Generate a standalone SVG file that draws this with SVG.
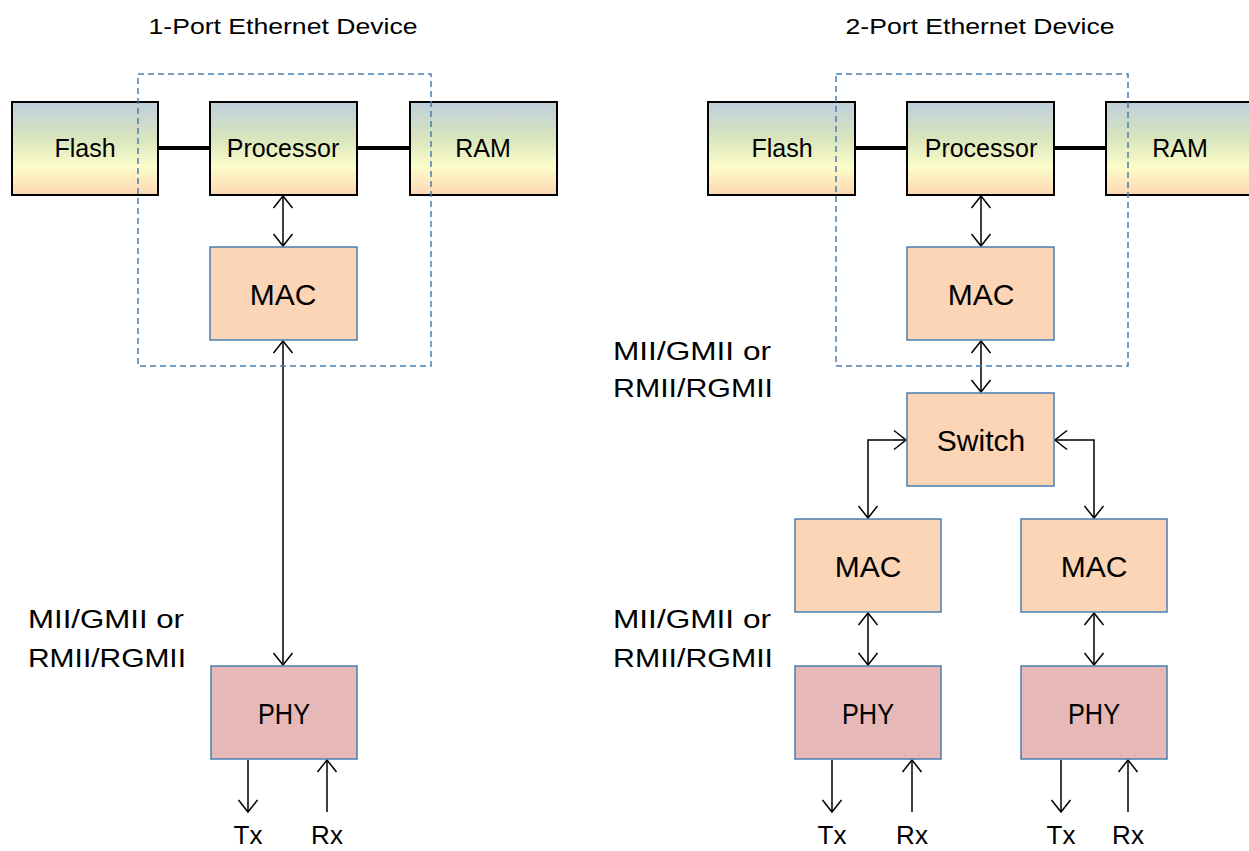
<svg xmlns="http://www.w3.org/2000/svg" width="1249" height="851" viewBox="0 0 1249 851">
  <style>
    text { font-family: "Liberation Sans", Arial, sans-serif; fill: #000; text-anchor: middle; }
    .mem { fill: url(#memGrad); stroke: #000; stroke-width: 2; }
    .mac { fill: #fbd5b5; stroke: #4a7eb0; stroke-width: 1.5; }
    .phy { fill: #e6b8b7; stroke: #4a7eb0; stroke-width: 1.5; }
    .soc { fill: none; stroke: #4a7eb0; stroke-width: 1.5; stroke-dasharray: 6 4; }
    .bus { stroke: #000; stroke-width: 4; fill: none; }
    .link { stroke: #000; stroke-width: 1.5; fill: none; }
    .both { marker-start: url(#chev); marker-end: url(#chev); }
    .one { marker-end: url(#chev); }
    .t25 { font-size: 25px; }
    .t30 { font-size: 30px; }
    .io { font-size: 26px; }
    .title { font-size: 22px; }
    .lbl { font-size: 25px; text-anchor: start; }
  </style>
  <defs>
    <linearGradient id="memGrad" x1="0" y1="0" x2="0" y2="1">
      <stop offset="0" stop-color="#bfcfdc"/>
      <stop offset="0.38" stop-color="#d7e4bd"/>
      <stop offset="0.7" stop-color="#fdfdca"/>
      <stop offset="1" stop-color="#fcd7b2"/>
    </linearGradient>
    <marker id="chev" markerUnits="userSpaceOnUse" markerWidth="30" markerHeight="30" viewBox="-15 -15 30 30" refX="0" refY="0" orient="auto-start-reverse">
      <path d="M-12,-9.5 L0,0 L-12,9.5" fill="none" stroke="#000" stroke-width="1.5"/>
    </marker>
  </defs>

  <rect width="1249" height="851" fill="#fff"/>

  <!-- titles -->
  <text class="title" x="283" y="34" textLength="269" lengthAdjust="spacingAndGlyphs">1-Port Ethernet Device</text>
  <text class="title" x="980" y="34" textLength="269" lengthAdjust="spacingAndGlyphs">2-Port Ethernet Device</text>

  <!-- interface labels -->
  <g id="labels">
    <text class="lbl" x="28" y="628" textLength="156" lengthAdjust="spacingAndGlyphs">MII/GMII or</text>
    <text class="lbl" x="28" y="667" textLength="158" lengthAdjust="spacingAndGlyphs">RMII/RGMII</text>
    <text class="lbl" x="613" y="360" textLength="158" lengthAdjust="spacingAndGlyphs">MII/GMII or</text>
    <text class="lbl" x="613" y="397" textLength="160" lengthAdjust="spacingAndGlyphs">RMII/RGMII</text>
    <text class="lbl" x="613" y="628" textLength="158" lengthAdjust="spacingAndGlyphs">MII/GMII or</text>
    <text class="lbl" x="613" y="667" textLength="160" lengthAdjust="spacingAndGlyphs">RMII/RGMII</text>
  </g>

  <!-- connectors -->
  <g id="connectors">
    <!-- 1-port -->
    <line class="bus" x1="158" y1="148" x2="210" y2="148"/>
    <line class="bus" x1="357" y1="148" x2="410" y2="148"/>
    <line class="link both" x1="283" y1="196" x2="283" y2="246"/>
    <line class="link both" x1="283" y1="341" x2="283" y2="665"/>
    <line class="link one" x1="248" y1="760" x2="248" y2="812"/>
    <line class="link one" x1="327" y1="812" x2="327" y2="760"/>
    <!-- 2-port -->
    <line class="bus" x1="855" y1="148" x2="907" y2="148"/>
    <line class="bus" x1="1054" y1="148" x2="1106" y2="148"/>
    <line class="link both" x1="981" y1="196" x2="981" y2="246"/>
    <line class="link both" x1="981" y1="341" x2="981" y2="392"/>
    <polyline class="link both" points="906,440 868,440 868,518"/>
    <polyline class="link both" points="1055,440 1094,440 1094,518"/>
    <line class="link both" x1="868" y1="613" x2="868" y2="665"/>
    <line class="link both" x1="1094" y1="613" x2="1094" y2="665"/>
    <line class="link one" x1="832" y1="760" x2="832" y2="812"/>
    <line class="link one" x1="912" y1="812" x2="912" y2="760"/>
    <line class="link one" x1="1061" y1="760" x2="1061" y2="812"/>
    <line class="link one" x1="1128" y1="812" x2="1128" y2="760"/>
  </g>

  <!-- 1-port device -->
  <g id="flash1"><rect class="mem" x="12" y="102" width="146" height="93"/><text class="t25" x="85" y="157">Flash</text></g>
  <g id="proc1"><rect class="mem" x="210" y="102" width="147" height="93"/><text class="t25" x="283" y="157">Processor</text></g>
  <g id="ram1"><rect class="mem" x="410" y="102" width="147" height="93"/><text class="t25" x="483" y="157">RAM</text></g>
  <g id="mac1"><rect class="mac" x="210" y="247" width="147" height="93"/><text class="t30" x="283" y="305">MAC</text></g>
  <g id="phy1"><rect class="phy" x="211" y="666" width="146" height="93"/><text class="t30" x="284" y="724" textLength="52" lengthAdjust="spacingAndGlyphs">PHY</text></g>
  <g id="soc1"><rect class="soc" x="138" y="74" width="293" height="292"/></g>
  <g id="io1">
    <text class="io" x="248" y="844">Tx</text>
    <text class="io" x="327" y="844">Rx</text>
  </g>

  <!-- 2-port device -->
  <g id="flash2"><rect class="mem" x="708" y="102" width="147" height="93"/><text class="t25" x="782" y="157">Flash</text></g>
  <g id="proc2"><rect class="mem" x="907" y="102" width="147" height="93"/><text class="t25" x="981" y="157">Processor</text></g>
  <g id="ram2"><rect class="mem" x="1106" y="102" width="150" height="93"/><text class="t25" x="1180" y="157">RAM</text></g>
  <g id="mac2"><rect class="mac" x="907" y="247" width="147" height="93"/><text class="t30" x="981" y="305">MAC</text></g>
  <g id="soc2"><rect class="soc" x="836" y="74" width="292" height="292"/></g>
  <g id="switch"><rect class="mac" x="907" y="393" width="147" height="93"/><text class="t30" x="981" y="451">Switch</text></g>
  <g id="macA"><rect class="mac" x="795" y="519" width="146" height="93"/><text class="t30" x="868" y="577">MAC</text></g>
  <g id="macB"><rect class="mac" x="1021" y="519" width="146" height="93"/><text class="t30" x="1094" y="577">MAC</text></g>
  <g id="phyA"><rect class="phy" x="795" y="666" width="146" height="93"/><text class="t30" x="868" y="724" textLength="52" lengthAdjust="spacingAndGlyphs">PHY</text></g>
  <g id="phyB"><rect class="phy" x="1021" y="666" width="146" height="93"/><text class="t30" x="1094" y="724" textLength="52" lengthAdjust="spacingAndGlyphs">PHY</text></g>
  <g id="io2">
    <text class="io" x="832" y="844">Tx</text>
    <text class="io" x="912" y="844">Rx</text>
    <text class="io" x="1061" y="844">Tx</text>
    <text class="io" x="1128" y="844">Rx</text>
  </g>
</svg>
